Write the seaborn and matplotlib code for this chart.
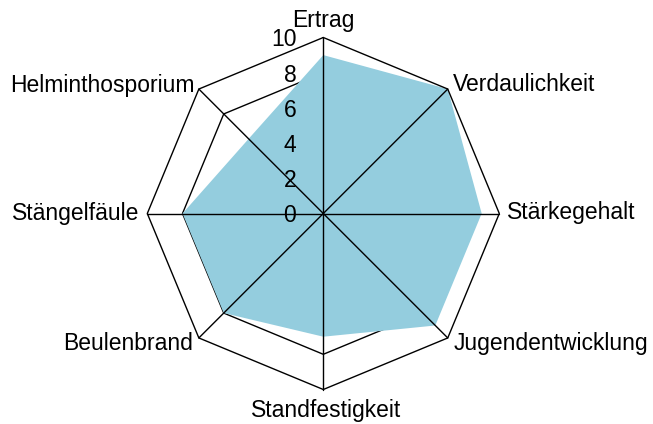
import numpy as np
import matplotlib
matplotlib.use("Agg")
import matplotlib.pyplot as plt
import seaborn as sns

categories = ["Ertrag", "Verdaulichkeit", "Stärkegehalt", "Jugendentwicklung",
              "Standfestigkeit", "Beulenbrand", "Stängelfäule", "Helminthosporium"]
values = [9, 10, 9, 9, 7, 8, 8, 6]
grid_levels = [8, 10]
tick_values = [0, 2, 4, 6, 8, 10]

sns.set_theme(style="white")
plt.rcParams['font.family'] = ['Liberation Sans', 'DejaVu Sans']

fig = plt.figure(figsize=(6.53, 4.24), dpi=100)
W, H = 653, 424
cx, cy, R = 323.3, 213.5, 176
ax = fig.add_axes([(cx - R) / W, (H - cy - R) / H, 2 * R / W, 2 * R / H], projection='polar')
ax.set_theta_offset(np.pi / 2)
ax.set_theta_direction(-1)
ax.set_ylim(0, 10)
ax.axis('off')

n = len(categories)
angles = np.linspace(0, 2 * np.pi, n, endpoint=False)
closed_angles = np.append(angles, angles[0])

fill_color = "#94CDDE"
line_kw = dict(color="black", lw=1.0, clip_on=False)

# inner grid octagon (below fill)
ax.plot(closed_angles, [grid_levels[0]] * (n + 1), zorder=1, **line_kw)

# data polygon
vals_closed = values + values[:1]
ax.fill(closed_angles, vals_closed, color=fill_color, lw=0, zorder=2)

# outer octagon and spokes above fill
ax.plot(closed_angles, [grid_levels[1]] * (n + 1), zorder=3, **line_kw)
for a in angles:
    ax.plot([a, a], [0, grid_levels[1]], zorder=3, **line_kw)

# radial tick labels
for t in tick_values:
    ax.annotate(str(t), xy=(0, t), xytext=(-27, -9), textcoords='offset pixels',
                ha='right', va='baseline', fontsize=16.5, color='black', zorder=5,
                annotation_clip=False)

# category labels
offsets = [
    ((0, 11), 'center'),
    ((5, -1.5), 'left'),
    ((8, -6), 'left'),
    ((6, -12.5), 'left'),
    ((3, -27), 'center'),
    ((-6, -12.5), 'right'),
    ((-8, -6), 'right'),
    ((-4, -2.5), 'right'),
]
for a, lab, (off, ha) in zip(angles, categories, offsets):
    ax.annotate(lab, xy=(a, 10), xytext=off, textcoords='offset pixels',
                ha=ha, va='baseline', fontsize=16.5, color='black', zorder=5,
                annotation_clip=False)

fig.savefig("out.png", dpi=100)
